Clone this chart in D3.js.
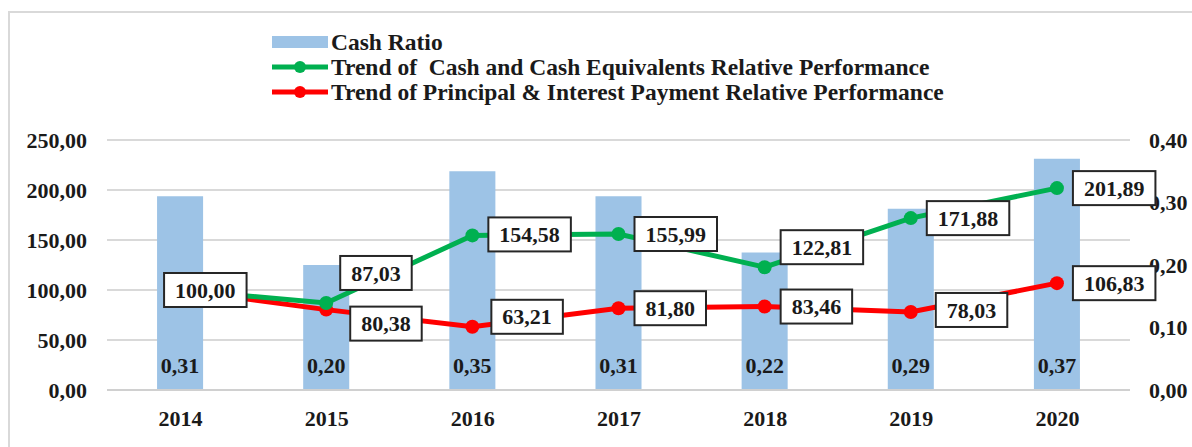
<!DOCTYPE html>
<html>
<head>
<meta charset="utf-8">
<script src="https://cdnjs.cloudflare.com/ajax/libs/d3/7.8.5/d3.min.js"></script>
<style>
  body { margin: 0; background: #fff; }
  text { font-family: "Liberation Serif", "Times New Roman", serif; font-weight: bold; fill: #1a1a1a; }
</style>
</head>
<body>
<div id="chart"></div>
<script>
var width = 1192, height = 447;

// data
var years = ['2014', '2015', '2016', '2017', '2018', '2019', '2020'];
var cashRatio = [0.31, 0.20, 0.35, 0.31, 0.22, 0.29, 0.37];
var cashTrend = [100.00, 87.03, 154.58, 155.99, 122.81, 171.88, 201.89];
var payTrend = [100.00, 80.38, 63.21, 81.80, 83.46, 78.03, 106.83];
var leftTicks = [0, 50, 100, 150, 200, 250];
var rightTicks = [0, 0.1, 0.2, 0.3, 0.4];
var legendNames = ['Cash Ratio',
  'Trend of  Cash and Cash Equivalents Relative Performance',
  'Trend of Principal & Interest Payment Relative Performance'];

var plot = {left: 107, right: 1130, top: 140, bottom: 390};

var loc = d3.formatLocale({decimal: ',', thousands: '.', grouping: [3], currency: ['', '']});
var f2 = loc.format('.2f');

var svg = d3.select('#chart').append('svg')
    .attr('width', width)
    .attr('height', height);

// chart area border
svg.append('rect')
    .attr('x', 9).attr('y', 12)
    .attr('width', 1200).attr('height', 460)
    .attr('fill', 'none')
    .attr('stroke', '#d9d9d9')
    .attr('stroke-width', 2);

var xBand = d3.scaleBand()
    .domain(years)
    .range([plot.left, plot.right])
    .paddingInner(0.685)
    .paddingOuter(0.3425);
var xPt = d3.scalePoint()
    .domain(years)
    .range([plot.left, plot.right])
    .padding(0.5);
var yLeft = d3.scaleLinear().domain([0, 250]).range([plot.bottom, plot.top]);
var yRight = d3.scaleLinear().domain([0, 0.4]).range([plot.bottom, plot.top]);

// gridlines
svg.append('g').selectAll('line')
    .data(leftTicks.slice(1))
    .enter().append('line')
      .attr('x1', plot.left).attr('x2', plot.right)
      .attr('y1', function(d) { return yLeft(d); })
      .attr('y2', function(d) { return yLeft(d); })
      .attr('stroke', '#d9d9d9')
      .attr('stroke-width', 2);

// left axis
var axL = svg.append('g')
    .attr('transform', 'translate(' + plot.left + ',0)')
    .call(d3.axisLeft(yLeft).tickValues(leftTicks).tickFormat(f2).tickSize(0).tickPadding(20));
axL.select('.domain').remove();
axL.selectAll('text').style('font-size', '22px').attr('fill', '#1a1a1a');

// right axis
var axR = svg.append('g')
    .attr('transform', 'translate(' + plot.right + ',0)')
    .call(d3.axisRight(yRight).tickValues(rightTicks).tickFormat(f2).tickSize(0).tickPadding(19));
axR.select('.domain').remove();
axR.selectAll('text').style('font-size', '22px').attr('fill', '#1a1a1a');

// bars
svg.append('g').selectAll('rect')
    .data(years)
    .enter().append('rect')
      .attr('x', function(d) { return xBand(d); })
      .attr('width', xBand.bandwidth())
      .attr('y', function(d, i) { return yRight(cashRatio[i]); })
      .attr('height', function(d, i) { return plot.bottom - yRight(cashRatio[i]); })
      .attr('fill', '#9dc3e6');

// bottom axis
var axB = svg.append('g')
    .attr('transform', 'translate(0,' + plot.bottom + ')')
    .call(d3.axisBottom(xPt).tickSize(0).tickPadding(20));
axB.select('.domain').attr('stroke', '#d0d0d0').attr('stroke-width', 2)
    .attr('d', 'M' + plot.left + ',0H' + plot.right);
axB.selectAll('text').style('font-size', '22px').attr('fill', '#1a1a1a');

// bar value labels
svg.append('g').selectAll('text')
    .data(years)
    .enter().append('text')
      .attr('x', function(d) { return xPt(d); })
      .attr('y', 373)
      .attr('text-anchor', 'middle')
      .style('font-size', '22px')
      .text(function(d, i) { return f2(cashRatio[i]); });

// lines
var series = [
  {values: payTrend, color: '#ff0000'},
  {values: cashTrend, color: '#00b050'}
];
var line = d3.line()
    .x(function(d, i) { return xPt(years[i]); })
    .y(function(d) { return yLeft(d); });

series.forEach(function(s) {
  svg.append('path')
      .datum(s.values)
      .attr('d', line)
      .attr('fill', 'none')
      .attr('stroke', s.color)
      .attr('stroke-width', 5);
  svg.append('g').selectAll('circle')
      .data(s.values)
      .enter().append('circle')
        .attr('cx', function(d, i) { return xPt(years[i]); })
        .attr('cy', function(d) { return yLeft(d); })
        .attr('r', 7)
        .attr('fill', s.color);
});

// data label boxes: [series values, index, box-left offset, centre offset]
var labelNudge = [
  [cashTrend, 0, -16, 0],
  [cashTrend, 1, 14, -30],
  [cashTrend, 2, 16, -1],
  [cashTrend, 3, 16, 0],
  [cashTrend, 4, 16, -20],
  [cashTrend, 5, 16, 0],
  [cashTrend, 6, 16, 0],
  [payTrend, 1, 24, 14],
  [payTrend, 2, 19, -10],
  [payTrend, 3, 16, 0],
  [payTrend, 4, 16, 0],
  [payTrend, 5, 25, -2],
  [payTrend, 6, 16, 0]
];

var labels = svg.append('g');
labelNudge.forEach(function(n) {
  var v = n[0][n[1]];
  var px = xPt(years[n[1]]), py = yLeft(v);
  var g = labels.append('g');
  var t = g.append('text')
      .attr('y', py + n[3])
      .attr('dy', '0.35em')
      .style('font-size', '22px')
      .text(f2(v));
  var w = t.node().getComputedTextLength() + 22;
  var left = px + n[2];
  g.insert('rect', 'text')
      .attr('x', left)
      .attr('y', py + n[3] - 17)
      .attr('width', w)
      .attr('height', 34)
      .attr('fill', '#fff')
      .attr('stroke', '#262626')
      .attr('stroke-width', 2);
  t.attr('x', left + 11);
});

// legend
var lg = svg.append('g');
var rowY = [42, 67, 92];
lg.append('rect')
    .attr('x', 272).attr('y', rowY[0] - 6)
    .attr('width', 56).attr('height', 12)
    .attr('fill', '#9dc3e6');
[['#00b050', 1], ['#ff0000', 2]].forEach(function(c) {
  lg.append('line')
      .attr('x1', 272).attr('x2', 328)
      .attr('y1', rowY[c[1]]).attr('y2', rowY[c[1]])
      .attr('stroke', c[0]).attr('stroke-width', 5);
  lg.append('circle')
      .attr('cx', 300).attr('cy', rowY[c[1]])
      .attr('r', 6).attr('fill', c[0]);
});
lg.selectAll('text')
    .data(legendNames)
    .enter().append('text')
      .attr('x', 331)
      .attr('y', function(d, i) { return rowY[i]; })
      .attr('dy', '0.35em')
      .style('font-size', '23.5px')
      .style('white-space', 'pre')
      .text(function(d) { return d; });
</script>
</body>
</html>
